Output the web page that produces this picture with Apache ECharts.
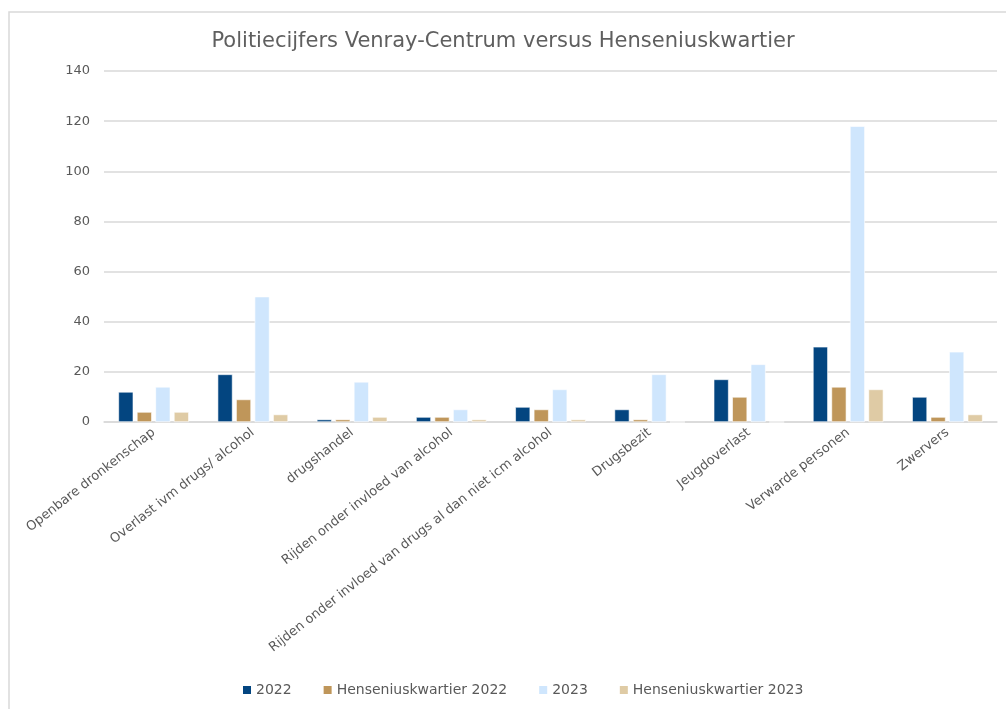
<!DOCTYPE html>
<html>
<head>
<meta charset="utf-8">
<script src="https://cdn.jsdelivr.net/npm/echarts@6/dist/echarts.min.js"></script>
<style>html,body{margin:0;padding:0;background:#fff}#c{width:1006px;height:709px}</style>
</head>
<body>
<div id="c"></div>
<script>
const categories = ["Openbare dronkenschap","Overlast ivm drugs/ alcohol","drugshandel","Rijden onder invloed van alcohol","Rijden onder invloed van drugs al dan niet icm alcohol","Drugsbezit","Jeugdoverlast","Verwarde personen","Zwervers"];
const seriesNames = ["2022","Henseniuskwartier 2022","2023","Henseniuskwartier 2023"];
const v2022 = [12,19,1,2,6,5,17,30,10];
const vH2022 = [4,9,1,2,5,1,10,14,2];
const v2023 = [14,50,16,5,13,19,23,118,28];
const vH2023 = [4,3,2,1,1,0,0,13,3];
const colors = ["#034580","#bf965a","#cfe6fd","#dfcba5"];
const yTicks = {min:0,max:140,interval:20};

const chart = echarts.init(document.getElementById('c'));
const data = [v2022,vH2022,v2023,vH2023];
const F = "DejaVu Sans";
chart.setOption({
  animation:false,
  textStyle:{fontFamily:F},
  title:{text:"Politiecijfers Venray-Centrum versus Henseniuskwartier",left:'center',top:26,
    textStyle:{fontFamily:F,fontSize:21,fontWeight:'normal',color:'#5f5f5f'}},
  legend:{bottom:7,left:236,itemWidth:10,itemHeight:10,itemGap:30,icon:'rect',
    textStyle:{fontFamily:F,color:'#595959',fontSize:14,padding:[0,0,0,-1]}},
  grid:{left:104,right:9,top:71,bottom:287,containLabel:false},
  xAxis:{type:'category',data:categories,
    axisLine:{lineStyle:{color:'#d9d9d9',width:1.5}},axisTick:{show:false},
    axisLabel:{rotate:38,color:'#595959',fontFamily:F,fontSize:13,interval:0,margin:9}},
  yAxis:{type:'value',min:yTicks.min,max:yTicks.max,interval:yTicks.interval,
    axisLine:{show:false},axisTick:{show:false},
    splitLine:{lineStyle:{color:'#d9d9d9',width:1.5}},
    axisLabel:{color:'#595959',fontFamily:F,fontSize:13,margin:14}},
  graphic:[{type:'rect',shape:{x:9,y:12,width:1200,height:900},style:{fill:'none',stroke:'#d9d9d9',lineWidth:1.5},silent:true,z:-1}],
  series:seriesNames.map((n,i)=>({name:n,type:'bar',data:data[i],barGap:'24%',barCategoryGap:'29%',
    itemStyle:{color:colors[i],borderColor:'#ffffff',borderWidth:0.6}}))
});
</script>
</body>
</html>
